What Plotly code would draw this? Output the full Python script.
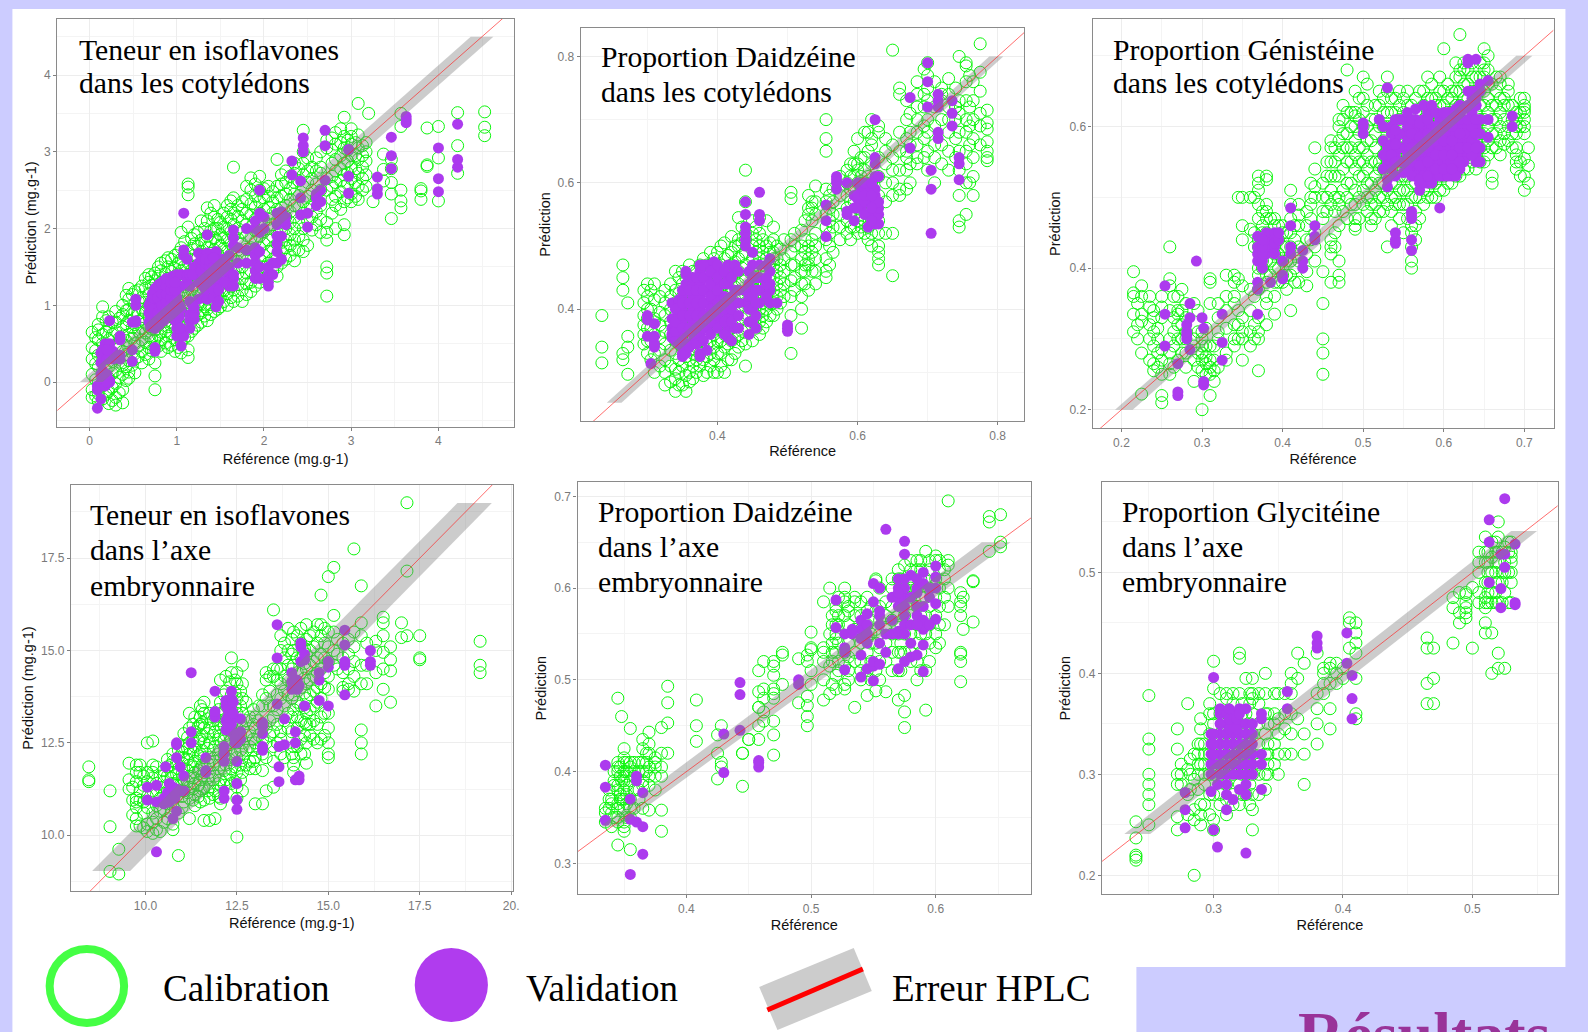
import plotly.graph_objects as go

W, H = 1595, 1032

# ---------- panel 1 : Teneur cotylédons
P1_CAL_X = [0.03,0.1,0.15,0.22,0.3,0.38,0.45,0.52,0.6,0.68,0.75,0.82,0.9,0.98,1.05,1.13,1.2,1.28,1.35,1.43,1.5,1.58,1.65,1.75,1.85,1.95,2.05,2.15,2.25,2.35,2.45,2.55,2.65,2.72,2.82,2.92,3.0,3.08,3.17,3.2,3.25,3.37,3.46,3.57,3.8,3.87,4.0,4.22,4.53]
P1_CAL_Y = [[-.2,-.1,.1,.3,.45,.65],[-.25,-.15,0,.2,.35,.55,.68,.75],[-.22,-.05,.12,.28,.5,.62,.85,.98],[-.28,-.12,.05,.2,.4,.55,.72,.85],[-.3,-.2,-.02,.15,.32,.48,.66,.78,.92],[-.27,-.1,.1,.22,.4,.6,.72,.88,1.0],[.05,.13,.28,.45,.62,.8,.95,1.08,1.22],[.12,.3,.5,.62,.75,.92,1.02,1.18],[.25,.4,.55,.7,.82,.95,1.1,1.25],[.3,.45,.6,.72,.85,1.0,1.15,1.3,1.4],[-.1,.08,.25,.45,.55,.68,.8,.95,1.1,1.2,1.32,1.42],[.4,.55,.65,.78,.9,1.05,1.15,1.3,1.45,1.55],[.45,.6,.72,.85,.98,1.1,1.25,1.35,1.5,1.62],[.4,.55,.7,.82,.95,1.08,1.2,1.35,1.48,1.65],[.38,.52,.68,.8,.92,1.05,1.18,1.3,1.45,1.6,1.75,1.95],[.32,.42,.6,.75,.88,1.0,1.15,1.28,1.4,1.55,1.7,2.02,2.44,2.54,2.58],[.7,.85,.98,1.12,1.25,1.38,1.5,1.65,1.8,1.92],[.78,.9,1.02,1.15,1.3,1.42,1.55,1.7,1.85,2.1],[.8,.95,1.08,1.22,1.35,1.5,1.6,1.75,1.9,2.1,2.27],[.92,1.05,1.18,1.3,1.45,1.58,1.72,1.88,2.0,2.15,2.3],[.98,1.1,1.22,1.35,1.5,1.62,1.78,1.92,2.08],[1.0,1.15,1.28,1.4,1.55,1.7,1.85,2.0,2.15,2.3],[1.05,1.2,1.32,1.45,1.6,1.75,1.9,2.05,2.2,2.4,2.8],[1.05,1.2,1.35,1.5,1.65,1.8,1.95,2.1,2.25,2.35],[1.18,1.3,1.45,1.6,1.75,1.88,2.02,2.18,2.32,2.5,2.66],[1.3,1.45,1.6,1.75,1.9,2.05,2.2,2.35,2.5,2.68],[1.4,1.55,1.7,1.85,2.0,2.12,2.28,2.42,2.55],[1.38,1.5,1.65,1.8,1.95,2.1,2.25,2.4,2.55,2.9],[1.6,1.75,1.85,2.0,2.15,2.3,2.45,2.6,2.75],[1.58,1.72,1.85,2.0,2.15,2.3,2.45,2.6,2.72,2.85],[1.7,1.85,2.0,2.2,2.35,2.55,2.7,2.85,3.0,3.28],[1.98,2.15,2.3,2.5,2.65,2.8],[1.95,2.12,2.3,2.5,2.72,2.8,3.0],[1.12,1.42,1.5,1.85,1.95,2.08,2.5,2.65,3.05,3.15],[2.0,2.3,2.42,2.6,2.75,2.9,3.1,3.25],[1.92,2.05,2.35,2.55,2.7,2.85,3.05,3.2,3.45],[2.35,2.45,2.65,2.8,2.95,3.1,3.2,3.3],[2.38,2.55,2.72,2.9,3.05,3.22,3.63],[2.55,2.7,2.88,3.0,3.12],[3.5],[2.35],[2.62,2.77,2.97],[2.13,2.45,2.6,2.78,2.9],[2.27,2.36,2.5,3.33,3.5],[2.38,2.49,2.52],[2.81,2.83,3.31],[2.36,2.92,3.33],[2.72,3.08,3.51],[3.21,3.32,3.52]]
P1_CAL_X2 = [.07,.19,.26,.34,.42,.49,.56,.64,.71,.79,.87,.94,1.02,1.09,1.17,1.24,1.32,1.39,1.47,1.54,1.62,1.7,1.8,1.9,2.0,2.1,2.2,2.3,2.4,2.5,2.6,2.78,2.88,2.96,3.05,3.13]
P1_CAL_Y2 = [[-.18,.03,.24,.41,.58],[-.16,.16,.33,.47,.66,.8],[-.24,-.07,.11,.27,.62,.78],[-.14,.06,.26,.44,.57,.83],[.02,.2,.36,.54,.76,.93,1.13],[.22,.38,.57,.71,.88,1.14],[.33,.47,.66,.79,.89,1.05,1.2],[.36,.52,.64,.77,.91,1.04,1.22,1.35],[.41,.57,.69,.81,.93,1.07,1.26,1.37],[.47,.61,.74,.86,1.02,1.18,1.38,1.5],[.51,.66,.79,.93,1.07,1.22,1.41,1.58],[.48,.63,.77,.89,1.03,1.17,1.31,1.44,1.6],[.45,.62,.76,.89,1.02,1.14,1.27,1.41,1.55,1.69],[.58,.72,.86,.98,1.12,1.24,1.37,1.51,1.66,1.83],[.66,.79,.93,1.07,1.2,1.33,1.46,1.6,1.74,1.87],[.74,.87,1.0,1.18,1.34,1.47,1.61,1.77,1.95],[.86,.98,1.12,1.26,1.39,1.53,1.66,1.81,2.0],[.88,1.01,1.15,1.28,1.42,1.55,1.68,1.83,1.97,2.2],[.95,1.13,1.27,1.41,1.55,1.67,1.83,2.0,2.12],[1.05,1.19,1.31,1.46,1.59,1.74,1.88,2.02,2.2],[1.1,1.24,1.36,1.5,1.66,1.8,1.96,2.12,2.25,2.36],[1.12,1.27,1.42,1.57,1.72,1.87,2.0,2.16,2.3],[1.14,1.28,1.42,1.58,1.73,1.91,2.05,2.2,2.38,2.55],[1.25,1.38,1.53,1.68,1.83,1.97,2.12,2.28,2.42,2.58],[1.35,1.5,1.65,1.8,1.96,2.1,2.25,2.4,2.52],[1.45,1.6,1.75,1.9,2.05,2.2,2.35,2.48],[1.55,1.7,1.82,1.96,2.12,2.27,2.42,2.58,2.7],[1.65,1.78,1.92,2.08,2.22,2.38,2.52,2.68],[1.72,1.9,2.08,2.27,2.43,2.62,2.78],[1.78,2.1,2.25,2.42,2.6,2.75,2.92],[2.05,2.22,2.4,2.58,2.75,2.92],[2.2,2.38,2.55,2.68,2.85,3.02,3.18],[2.25,2.48,2.62,2.78,2.95,3.12,3.3],[2.4,2.58,2.72,2.88,3.02,3.15],[2.42,2.6,2.78,2.95,3.12],[2.5,2.65,2.8,2.95,3.08]]
P1_VAL_X = [.09,.13,.18,.23,.27,.35,.49,.53,.7,.75,.8,.85,.9,.95,1.0,1.05,1.08,1.12,1.15,1.2,1.25,1.3,1.35,1.45,1.5,1.6,1.65,1.7,1.8,1.9,1.95,2.0,2.05,2.1,2.15,2.2,2.25,2.32,2.42,2.45,2.5,2.6,2.65,2.7,2.97,3.3,3.46,3.63,4.0,4.22]
P1_VAL_Y = [[-.34,-.1,-.05],[-.22,0,.1,.25,.38],[-.05,.08,.38,.5],[0,.02,.4,.5,.8],[.3,.4],[.3,.35,.55,.6],[.27,.42,.78],[.78,.8,1.0,1.08],[.72,.85,.95,1.05],[.4,.45,.7,.82,.92,1.02,1.12,1.22],[.75,.88,.98,1.08,1.18,1.28],[.8,.92,1.02,1.12,1.22,1.32],[.9,1.0,1.1,1.2,1.3],[.95,1.05,1.15,1.25,1.38],[.6,.7,.78,.85,.95,1.1,1.2,1.4],[.47,.6,.7,.95,1.25,1.4],[.6,1.65,1.72,2.2],[1.35,1.4,1.6],[.7,.8,.88,1.05,1.25,1.4],[.82,.9,.97,1.4,1.5],[1.08,1.3,1.42,1.55,1.68],[1.1,1.25,1.4,1.6,1.65],[1.08,1.3,1.45,1.6,1.68,1.92],[.98,1.1,1.25,1.4,1.55,1.7],[1.3,1.45,1.6],[1.25,1.4,1.5,1.65],[1.35,1.78,1.88,1.98],[1.55,1.75],[1.55,1.72,2.0],[1.35,1.45,1.55,1.65,1.75,2.0,2.1],[1.35,1.5,1.7,1.95,2.2,2.5],[2.0,2.15],[1.25,1.3,1.4,1.5],[1.4,1.55],[1.55,1.7,1.8,1.9,2.05,2.2],[1.6,1.9,2.1,2.22],[2.05,2.15],[2.7,2.88],[2.18,2.4,2.62],[3.0,3.08,3.18],[2.02,2.2],[2.3,2.4,2.45],[2.35,2.5],[2.63,3.08,3.28],[2.46,2.68,3.03],[2.45,2.52,2.67],[2.78,2.95,3.19],[3.38,3.42,3.46],[2.48,2.65,3.05],[2.8,2.9,3.36]]
P1_VAL_X2 = [.15,.2,.68,.72,.78,.83,.88,.93,.98,1.03,1.18,1.28,1.33,1.38,1.42,1.48,1.55,1.65]
P1_VAL_Y2 = [[.05,.15,.3,.42],[0,.1,.3,.42],[.78,.9,1.0],[.75,.95,1.1,1.15],[.8,.9,1.1,1.25],[.85,1.0,1.15,1.28],[.85,.95,1.05,1.15,1.25,1.35],[.9,1.0,1.1,1.2,1.3],[.8,.9,1.05,1.2,1.3],[.7,.85,1.0],[1.0,1.4],[1.45,1.55,1.6],[1.2,1.35,1.5,1.55,1.6],[1.35,1.4,1.5,1.58],[1.1,1.2,1.35,1.5,1.62],[1.05,1.2,1.35,1.5],[1.3,1.45,1.6],[1.25,1.4]]
P1_BAND_X = [-.11,.15,4.63,4.37]
P1_BAND_Y = [0,0,4.5,4.5]

# ---------- panel 2 : Daidzéine cotylédons
P2_CAL_X = [.235,.265,.272,.3,.31,.325,.34,.35,.36,.37,.38,.39,.4,.41,.42,.43,.44,.45,.46,.47,.48,.49,.505,.52,.53,.54,.555,.565,.575,.59,.6,.61,.62,.63,.65,.66,.67,.685,.7,.71,.73,.745,.755,.765,.775,.785]
P2_CAL_Y = [[.315,.34,.39],[.32,.33,.43,.45,.47],[.297,.34,.357,.41],[.33,.35,.37,.385,.4,.42,.44],[.3,.33,.36,.38,.385,.415,.44],[.28,.3,.32,.345,.365,.39,.41,.43],[.27,.29,.305,.33,.35,.37,.39,.41,.43,.46],[.28,.31,.34,.36,.38,.4,.42,.44,.46],[.285,.3,.32,.35,.37,.39,.41,.43,.45,.47],[.3,.32,.34,.36,.38,.4,.42,.44,.46],[.295,.32,.34,.36,.38,.4,.42,.44,.46,.48],[.31,.33,.35,.37,.39,.41,.43,.45,.47,.49],[.3,.33,.35,.37,.39,.41,.43,.45,.47,.49],[.3,.34,.36,.38,.4,.42,.44,.46,.48,.505],[.32,.35,.37,.39,.41,.43,.45,.47,.49,.515],[.34,.36,.38,.4,.42,.44,.46,.48,.5,.51,.545],[.31,.345,.37,.39,.41,.43,.45,.47,.49,.51,.52,.57,.62],[.35,.38,.4,.42,.44,.46,.48,.5,.52,.54],[.36,.38,.4,.42,.44,.46,.48,.5,.52,.545],[.38,.4,.42,.44,.46,.48,.5,.54],[.39,.41,.43,.45,.47,.48,.49,.51,.53],[.41,.43,.45,.47,.495],[.33,.39,.42,.445,.47,.49,.51,.575,.585],[.37,.4,.42,.44,.46,.48,.5,.525],[.43,.47,.48,.5,.55,.56,.58],[.44,.46,.48,.5,.52,.55,.57,.595],[.45,.46,.48,.51,.53,.55,.57,.59,.65,.67,.7],[.49,.53,.55,.57,.59],[.51,.53,.55,.58,.61],[.51,.53,.55,.57,.59,.61,.63],[.52,.54,.56,.58,.6,.62,.63,.67],[.52,.54,.56,.58,.6,.62,.64,.68],[.5,.52,.54,.56,.58,.6,.63,.66,.67,.7],[.47,.48,.49,.5,.52,.54,.58,.61,.64,.68,.69],[.453,.52,.58,.6,.62,.64,.66,.81],[.58,.59,.62,.65,.68,.74,.75],[.59,.62,.64,.65,.67,.7,.73],[.63,.64,.66,.68,.7,.72,.74,.76],[.62,.65,.68,.7,.73,.75,.77,.79],[.6,.64,.66,.69,.72,.76],[.62,.65,.68,.7,.72,.74,.765],[.53,.54,.58,.62,.65,.68,.71,.73,.8],[.55,.6,.63,.65,.68,.7,.73,.76,.785,.79],[.58,.61,.64,.67,.7,.73,.76],[.66,.69,.71,.745,.775,.82],[.635,.64,.65,.665,.685,.695,.715]]
P2_CAL_X2 = [.295,.305,.318,.333,.345,.355,.365,.375,.385,.395,.405,.415,.425,.435,.455,.465,.475,.485,.495,.51,.525,.535,.56,.585,.595,.605,.615,.64,.675,.695,.72,.74,.76]
P2_CAL_Y2 = [[.345,.36,.375,.39,.41,.43],[.32,.35,.37,.4,.43],[.31,.335,.355,.375,.395,.42],[.285,.31,.335,.36,.38,.4,.42,.44],[.28,.3,.32,.345,.365,.385,.405,.425,.45],[.27,.295,.325,.35,.37,.39,.41,.43,.45],[.29,.31,.33,.355,.375,.395,.415,.435,.46],[.31,.33,.35,.37,.39,.41,.43,.45,.47],[.3,.325,.345,.365,.385,.405,.425,.445,.47],[.3,.32,.34,.36,.38,.4,.42,.44,.46,.48],[.31,.33,.35,.37,.39,.41,.43,.45,.47,.5],[.32,.345,.365,.385,.405,.425,.445,.465,.485],[.33,.355,.375,.395,.415,.435,.455,.475,.5],[.35,.365,.385,.405,.425,.445,.465,.485,.505,.53],[.37,.39,.41,.43,.45,.47,.49,.51,.53],[.37,.39,.41,.43,.45,.47,.49,.51],[.39,.41,.43,.45,.47,.49,.505],[.4,.42,.44,.46,.48,.5],[.42,.44,.46,.48,.51],[.43,.45,.47,.5,.52],[.44,.46,.47,.49,.51,.54],[.46,.49,.51,.54,.56,.57],[.47,.5,.52,.54,.56,.58],[.52,.54,.56,.58,.6,.62],[.53,.55,.57,.59,.61,.63,.65],[.53,.55,.57,.59,.61,.64],[.51,.53,.55,.57,.59,.61,.65,.68],[.52,.57,.6,.63,.65,.67],[.6,.63,.66,.68,.71],[.64,.67,.69,.72,.74,.78],[.63,.66,.7,.73,.74,.75],[.64,.67,.7,.72,.72,.75],[.6,.66,.69,.72,.77]]
P2_VAL_X = [.3,.31,.305,.335,.345,.35,.355,.365,.375,.385,.395,.405,.415,.425,.44,.445,.45,.46,.475,.485,.5,.555,.57,.585,.595,.605,.615,.625,.63,.675,.7,.705,.715,.735,.745]
P2_VAL_Y = [[.357,.383,.39],[.34,.345,.357,.377],[.314],[.355,.36,.37,.385,.41],[.345,.355,.37,.38,.39,.41,.415],[.325,.33,.34,.36,.38,.4,.42,.43],[.33,.345,.37,.39,.41,.44,.455,.46],[.35,.36,.38,.4,.42,.44,.45],[.325,.33,.36,.38,.4,.42,.44,.46,.47],[.335,.37,.39,.41,.43,.45,.47],[.38,.4,.42,.44,.46,.475],[.38,.38,.4,.42,.44,.46],[.355,.37,.39,.41,.44,.45,.47],[.37,.39,.41,.43,.46,.47],[.41,.43,.5,.51,.52,.53,.55,.57],[.36,.38,.4,.42,.44,.46],[.38,.4,.42,.45,.47,.49],[.41,.43,.45,.47,.54,.55,.585],[.41,.43,.44,.46,.48],[.41],[.365,.37,.375],[.515,.54,.565],[.59,.6,.605,.61],[.55,.555,.6],[.54,.56,.58],[.56,.585,.59],[.53,.55,.57,.59],[.535,.55,.565,.58,.59,.61,.63,.64,.7],[.535,.55,.56,.57,.61],[.655,.735],[.72,.76,.79],[.52,.59,.62],[.67,.68,.72,.73,.74],[.69,.71,.73],[.605,.63,.64]]
P2_VAL_X2 = [.34,.35,.36,.37,.38,.39,.4,.41,.42,.43,.455,.47,.6,.61,.62]
P2_VAL_Y2 = [[.35,.365,.38,.4],[.35,.37,.39,.41],[.34,.37,.39,.41,.43],[.345,.37,.39,.41,.43,.45],[.35,.37,.39,.41,.43,.45,.47],[.36,.38,.4,.42,.44,.46],[.37,.39,.41,.43,.45,.47],[.36,.38,.4,.42,.44,.46],[.35,.38,.4,.42,.45],[.37,.39,.41,.43,.46],[.37,.39,.41,.43,.45],[.42,.44,.45,.47],[.56,.575,.58,.6],[.55,.57,.58,.6],[.54,.56,.58,.6]]
P2_BAND_X = [.242,.263,.808,.788]
P2_BAND_Y = [.252,.252,.8,.8]

# ---------- panel 3 : Génistéine cotylédons
P3_CAL_X = [.215,.225,.24,.25,.26,.27,.28,.29,.3,.31,.32,.33,.34,.35,.36,.37,.38,.39,.4,.41,.42,.43,.44,.45,.46,.47,.48,.49,.5,.51,.52,.53,.54,.55,.56,.57,.58,.59,.6,.61,.62,.63,.64,.65,.66,.67,.68,.69,.7,.705]
P3_CAL_Y = [[.31,.335,.36,.365,.395],[.222,.28,.325,.335,.36,.375],[.255,.265,.29,.31,.33,.34],[.21,.22,.25,.27,.285,.33,.345,.36],[.25,.265,.28,.3,.34,.375,.385,.43],[.27,.3,.32,.335,.34,.36],[.26,.28,.3,.31,.33,.35],[.24,.27,.29,.3,.35],[.2,.255,.27,.28,.29,.3,.31],[.22,.25,.26,.27,.29,.35,.38,.385],[.26,.3,.31,.33,.35],[.27,.28,.315,.34,.36,.39],[.29,.3,.32,.35,.36,.38,.39],[.27,.3,.31,.33,.375,.44,.46,.5],[.29,.31,.34,.37,.455,.5],[.255,.3,.31,.33,.37,.39,.4,.43,.44,.47,.49,.51,.52,.53],[.32,.35,.36,.38,.39,.41,.45,.47,.48,.49,.525,.53],[.335,.36,.38,.4,.42,.43,.46,.47],[.38,.39,.41,.43,.45,.46],[.34,.39,.41,.43,.45,.47,.49,.51],[.38,.41,.43,.46,.475,.49],[.375,.395,.42,.44,.46,.48],[.41,.43,.45,.5,.515,.54,.57],[.25,.28,.3,.35,.395,.47,.48,.5,.52],[.38,.42,.43,.44,.49,.51,.53,.55,.57,.58],[.38,.39,.41,.46,.49,.5,.53,.56,.58,.6,.61],[.47,.5,.52,.55,.57,.59,.62,.68],[.455,.46,.47,.49,.51,.54,.56,.58,.6,.615,.62,.65],[.49,.51,.53,.55,.57,.6,.62,.64,.67],[.46,.47,.49,.5,.52,.55,.58,.61],[.48,.5,.52,.54,.55,.6,.63,.65],[.43,.49,.51,.53,.55,.57,.6,.62,.65,.67],[.49,.5,.52,.56,.62,.64],[.45,.49,.51,.53,.55,.57,.58,.6,.62,.64],[.4,.41,.43,.45,.46,.5,.52,.54,.56,.6,.63],[.47,.5,.53,.55,.57,.59,.62,.65],[.5,.51,.53,.55,.57,.59,.61,.64,.67],[.5,.52,.54,.56,.58,.6,.62,.63,.64],[.51,.53,.55,.57,.59,.61,.63,.65,.71],[.52,.54,.56,.58,.6,.62,.64,.65],[.53,.55,.57,.59,.61,.63,.65,.67,.68,.73],[.54,.56,.58,.6,.62,.64,.66,.68],[.54,.56,.58,.6,.62,.65,.67],[.55,.57,.59,.61,.63,.65,.67,.68,.69,.71],[.52,.53,.57,.59,.61,.63,.66],[.56,.58,.6,.62,.64,.66,.67],[.58,.6,.63,.65,.66],[.54,.55,.56,.57,.59,.6,.61,.62],[.51,.53,.555,.59,.6,.61,.62,.625,.63,.64],[.52,.545,.57]]
P3_CAL_X2 = [.22,.235,.245,.265,.275,.295,.305,.315,.345,.365,.375,.385,.395,.405,.415,.435,.455,.465,.475,.485,.495,.505,.515,.525,.535,.545,.555,.565,.575,.585,.595,.605,.615,.625,.635,.645,.655,.665,.675,.685,.695]
P3_CAL_Y2 = [[.3,.32,.35],[.27,.3,.32,.345,.36],[.26,.28,.3,.315],[.26,.29,.31,.33,.36],[.28,.3,.32,.34,.37],[.26,.28,.31,.34],[.25,.265,.275,.29,.315],[.24,.255,.27,.29],[.3,.32,.34,.385,.5],[.3,.32,.36,.43,.45,.5],[.4,.41,.42,.45,.46,.48],[.39,.41,.43,.44,.47],[.38,.4,.42,.44,.46],[.37,.39,.41,.43,.45],[.38,.4,.42,.44,.46],[.44,.47,.49,.5,.52],[.48,.5,.53,.55],[.43,.45,.48,.5,.53,.55,.57],[.48,.51,.54,.57,.59,.61,.63],[.49,.52,.55,.57,.6,.62],[.47,.5,.53,.55,.57,.59,.61,.64],[.48,.5,.52,.54,.56,.58,.6,.63,.66],[.47,.49,.51,.53,.55,.57,.59,.61,.63],[.48,.5,.52,.54,.56,.58,.6,.62,.64],[.46,.48,.5,.52,.54,.56,.58,.6,.62,.64],[.47,.49,.51,.53,.55,.57,.59,.61,.63,.65],[.47,.49,.51,.53,.55,.57,.59,.61,.63,.65],[.44,.46,.48,.5,.52,.54,.56,.58,.6,.62,.64],[.49,.51,.53,.55,.57,.59,.61,.63,.65],[.5,.52,.54,.56,.58,.6,.62,.64,.66],[.51,.53,.55,.57,.59,.61,.63,.65,.67],[.52,.54,.56,.58,.6,.62,.64,.66],[.53,.55,.57,.59,.61,.63,.65,.67,.69],[.54,.56,.58,.6,.62,.64,.66,.68,.69],[.55,.57,.59,.61,.63,.65,.67,.69],[.55,.57,.59,.61,.63,.65,.67,.69],[.56,.58,.6,.62,.64,.66,.68,.7],[.57,.59,.61,.63,.65,.67],[.575,.59,.61,.63,.64],[.57,.59,.61,.63],[.53,.55,.6,.62,.64]]
P3_VAL_X = [.254,.27,.281,.285,.293,.3,.302,.325,.369,.38,.385,.39,.4,.41,.425,.44,.5,.52,.53,.54,.55,.56,.57,.58,.59,.595,.6,.61,.62,.63,.64,.655,.685]
P3_VAL_Y = [[.29,.335,.375],[.22,.225,.265],[.3,.305,.31,.32],[.285,.33,.35],[.41],[.33],[.235,.24,.315],[.27,.295,.335],[.335,.37,.38,.41,.42,.43,.445],[.42,.43,.44,.45],[.38],[.42,.43,.44,.45],[.385,.39,.41],[.42,.43,.46,.485],[.4,.41,.425],[.44,.445,.46],[.59,.6,.605],[.61],[.515,.525,.55,.56,.57,.655],[.435,.44,.45,.56,.57,.58,.59],[.535,.55,.57,.57,.59,.61],[.425,.44,.47,.475,.48,.54,.56,.58,.6],[.51,.52,.54,.56,.58,.6],[.52,.54,.56,.58,.6,.62],[.53,.55,.57,.59],[.485],[.53,.55,.57,.59,.61],[.53,.55,.57,.59,.61,.62],[.54,.56,.58,.6,.615],[.56,.58,.59,.6,.65,.69,.695],[.55,.56,.575,.6,.63,.65,.695],[.585,.61,.665],[.6,.615]]
P3_VAL_X2 = [.375,.39,.395,.525,.535,.545,.555,.565,.575,.585,.595,.605,.615,.625,.635,.645,.54,.56,.57,.58,.59,.6,.61,.62,.63,.64]
P3_VAL_Y2 = [[.4,.41,.42,.43,.44],[.435],[.44,.45],[.54,.56,.58,.6],[.54,.56,.575,.59,.6],[.55,.57,.59,.61],[.54,.56,.58,.6,.62],[.53,.55,.57,.59,.61,.625],[.52,.53,.55,.57,.59,.61,.63],[.52,.54,.56,.58,.6,.62,.63],[.53,.55,.57,.59,.61],[.53,.55,.57,.59,.61,.62],[.53,.55,.57,.59,.61,.625],[.55,.57,.59,.61,.625],[.56,.58,.6,.62,.64,.65],[.55,.57,.59,.61,.65,.66],[.53,.55,.575,.595,.61],[.53,.55,.57,.59,.61],[.525,.545,.565,.585,.605],[.53,.55,.57,.59,.61],[.54,.56,.58,.6,.62],[.54,.56,.58,.6,.62],[.54,.56,.58,.6],[.55,.57,.59,.61,.63],[.57,.61,.63],[.57,.59,.61,.63,.64]]
P3_BAND_X = [.192,.214,.71,.69]
P3_BAND_Y = [.2,.2,.7,.7]

# ---------- panel 4 : Teneur axe embryonnaire
P4_CAL_X = [8.45,9.03,9.27,9.55,9.75,9.85,10.05,10.2,10.4,10.6,10.75,10.9,11.05,11.2,11.35,11.5,11.6,11.75,11.9,12.05,12.2,12.35,12.5,12.65,12.85,13.0,13.2,13.3,13.5,13.7,13.9,14.05,14.25,14.4,14.6,14.8,15.0,15.15,15.4,15.7,15.9,16.05,16.3,16.5,16.7,17.0,17.15,17.5,19.15]
P4_CAL_Y = [[11.45,11.5,11.85],[9.02,10.23,11.2],[8.95,9.62],[11.25,11.5,11.95],[10.25,10.45,10.75,10.9,11.0,11.45,11.7,11.9],[10.25,10.95,11.2,11.7,11.9],[10.1,10.3,10.75,11.05,11.45,11.7,12.5],[10.05,10.35,10.6,11.2,11.55,11.7,11.9,12.55],[10.1,10.65,11.0,11.3,11.6],[10.45,10.85,11.2,11.6,11.85,12.05],[10.15,10.3,10.8,11.4,11.7,12.0,12.2],[9.45,10.6,11.2,11.5,11.8,12.1,12.3],[10.9,11.2,11.5,11.8,12.1,12.4,12.75],[10.45,11.0,11.3,11.6,11.9,12.2,12.5,12.9,13.3],[10.8,11.1,11.4,11.7,12.0,12.4,12.8,13.2],[10.9,11.2,11.5,11.8,12.2,12.6,13.0,13.2,13.5],[10.4,10.95,11.3,11.7,12.1,12.5,12.9,13.3,13.6],[10.4,11.0,11.3,11.7,12.1,12.5,12.9,13.3],[10.45,11.2,11.6,12.0,12.4,12.8,13.2],[10.85,11.0,11.5,11.9,12.3,12.7,13.1,13.6,14.2],[11.5,11.9,12.3,12.7,13.1,13.5,13.9,14.3],[11.4,11.8,12.2,12.6,13.0,13.4,13.8,14.4,14.8],[9.95,11.0,11.3,11.7,12.1,12.5,12.9,13.3,13.7,14.1,14.4],[11.2,11.7,12.1,12.5,12.9,13.3,13.7,14.1,14.6],[11.8,12.0,12.4,12.8,13.2],[10.85,11.8,12.1,12.5,12.9,13.2],[10.85,11.75,12.2,12.6,13.0,13.5,13.8],[11.2,12.1,12.5,12.9,13.7,14.2,14.4],[11.3,12.0,12.4,12.8,13.2,13.5,14.3,14.5,16.1],[12.2,12.6,12.8,13.7,14.1,14.5,15.0,15.4],[12.9,13.3,13.8,14.2,14.6,15.0,15.6],[11.7,11.9,12.1,12.4,13.4,13.8,14.2,14.6,15.0,15.5],[12.2,12.6,13.1,13.5,14.0,14.4,14.8,15.2,15.6],[11.95,12.5,13.0,13.3,13.7,14.1,14.5,14.9,15.3,15.7],[12.6,13.1,13.5,13.9,14.3,14.7,15.1,15.5],[12.6,13.2,13.7,14.1,14.5,14.9,15.4,15.7,16.5],[12.1,12.2,12.5,12.9,13.3,13.95,14.3,14.7,15.1,15.5,17.0],[14.6,15.0,15.5,15.95,17.25],[13.9,14.0,14.4,14.8,15.2],[13.9,14.3,14.7,15.1,15.5,17.75],[12.2,12.5,12.85,14.1,14.6,15.4,15.75,16.75],[14.1,14.6,15.2],[13.5,14.4,15.0,15.25],[13.95,14.5,14.95,15.4,15.75,15.9],[13.6,14.45,14.75,15.1],[15.35,15.75],[15.4,17.15,19.0],[14.75,14.8,15.4],[14.4,14.6,15.25]]
P4_CAL_X2 = [9.65,9.95,10.3,10.5,10.7,10.85,11.0,11.15,11.3,11.45,11.55,11.7,11.85,12.0,12.15,12.3,12.45,12.6,12.75,12.95,13.1,13.4,13.6,13.8,14.0,14.15,14.35,14.5,14.7,14.9,15.25,15.55]
P4_CAL_Y2 = [[10.55,10.95,11.3],[10.2,10.6,10.9,11.35,11.6],[10.15,10.45,10.8,11.1,11.4,11.85],[10.35,10.7,11.1,11.45,11.75],[10.6,10.95,11.25,11.55,11.9],[11.05,11.35,11.65,11.95],[10.75,11.05,11.35,11.65,11.95,12.25],[11.15,11.45,11.75,12.05,12.35,12.65],[10.95,11.25,11.55,11.85,12.25,12.6,13.0],[11.05,11.35,11.75,12.15,12.55,12.95],[11.25,11.6,11.9,12.3,12.7,13.05,13.4],[11.2,11.55,11.95,12.35,12.75,13.15],[11.1,11.5,11.9,12.3,12.7,13.1],[11.05,11.4,11.8,12.2,12.6,13.0,13.4],[11.35,11.75,12.15,12.55,12.95,13.35,13.8],[11.65,12.05,12.45,12.85,13.25,13.65,14.15],[11.45,11.85,12.25,12.65,13.05,13.45,13.85,14.2],[11.5,11.9,12.3,12.7,13.1,13.5,13.9],[11.9,12.3,12.7,13.1,13.6],[12.0,12.3,12.6,13.0,13.4],[12.35,12.7,13.1,13.5],[12.7,13.1,13.5,13.9,14.3],[12.5,13.0,13.4,13.8,14.2,14.5],[12.1,13.1,13.5,13.9,14.3,14.8,15.2],[12.2,12.8,13.2,13.7,14.1,14.5,14.9,15.3],[12.4,12.9,13.2,13.6,14.0,14.4,14.8,15.4],[12.2,12.7,13.05,13.45,13.85,14.25,14.65,15.05],[12.7,13.0,13.4,13.8,14.2,14.6,15.0,15.4],[12.5,13.0,13.6,14.0,14.4,14.8,15.2,15.7],[12.7,13.3,14.0,14.4,14.8,15.2,15.6],[14.5,14.9,15.3],[13.95,14.1,14.5,14.9,15.3]]
P4_VAL_X = [10.05,10.3,10.5,10.55,10.65,10.75,10.85,10.95,11.05,11.25,11.65,11.9,12.15,12.2,12.35,12.5,12.6,13.2,13.6,13.65,13.8,14.0,14.1,14.2,14.25,14.35,14.75,15.0,15.45,16.15]
P4_VAL_Y = [[10.95,11.3],[9.55,10.9,11.35],[10.85,11.0],[11.85],[10.9,11.1,11.4],[10.45,11.0,11.3],[10.65,11.25,12.1,12.45,12.5],[11.2,11.85],[11.2,11.6],[12.5,12.8,14.4],[11.7,11.75,12.1],[13.2,13.35,13.9],[11.0,11.2,12.0,12.2,12.4],[12.85,13.1,13.5,13.65],[12.8,13.0,13.15,13.4,13.7,13.9],[10.7,10.95,11.4,12.0,12.5,12.7],[12.6,12.8,13.15],[12.3,12.4,12.75,12.95,13.05],[13.55,14.8,15.7],[11.45,11.85,12.4],[12.45,13.15],[13.95,14.15,14.4],[11.5,12.5,12.8],[11.5,11.6,14.05],[14.7,15.1,15.2],[13.5,14.75,14.9],[13.65,14.2,14.4],[13.5,14.55,14.7],[13.8,14.6,14.7,15.15,15.55],[14.6,14.7,15.0]]
P4_VAL_X2 = [10.6,10.8,12.25,12.4,12.45,14.15]
P4_VAL_Y2 = [[10.95,11.15],[11.0,11.2],[13.0,13.2,13.4],[13.3,13.6],[12.5,12.6],[13.95,14.2]]
P4_BAND_X = [8.54,9.58,19.47,18.53]
P4_BAND_Y = [9.03,9.03,18.99,18.99]

# ---------- panel 5 : Daidzéine axe embryonnaire
P5_CAL_X = [.335,.34,.345,.348,.35,.355,.365,.37,.375,.38,.385,.408,.425,.428,.445,.45,.458,.462,.47,.477,.49,.497,.5,.51,.515,.52,.527,.535,.545,.552,.56,.57,.575,.585,.592,.6,.61,.62,.622,.63,.643,.652]
P5_CAL_Y = [[.345,.355,.36],[.34,.355,.365,.37],[.32,.345,.35,.36,.365,.38,.385,.4,.405,.41,.48],[.37,.39,.46],[.335,.34,.345,.36,.37,.38,.39,.4,.41,.415,.425],[.315,.35,.36,.37,.39,.405,.41,.447],[.36,.385,.39,.4,.41,.425,.435],[.358,.385,.395,.405,.42,.43,.443],[.38,.395,.405,.41,.415],[.335,.358,.395,.405,.42,.448],[.42,.453,.475,.493],[.433,.45,.478],[.392,.42,.44],[.405,.41,.45],[.384,.42,.42],[.435,.435],[.435,.45,.47,.47,.487,.51],[.455,.465,.48,.49,.52],[.418,.44,.455,.48,.485,.49,.505,.515,.52],[.495,.527,.53],[.475,.523],[.45,.46,.472,.482,.52,.527],[.495,.51,.533,.535,.552],[.478,.535,.585],[.485,.515,.55,.6],[.49,.505,.53,.545,.55,.56,.575,.58],[.49,.495,.515,.53,.57,.585,.59,.6],[.47,.52,.53,.55,.555,.57,.585,.59],[.483,.51,.53,.545,.56,.575,.59],[.488,.51,.54,.555,.575,.608,.61],[.487,.52,.54,.555,.57,.585],[.478,.51,.53,.55,.57,.59,.61,.62],[.448,.465,.483,.53,.55,.57,.6,.625],[.5,.52,.54,.56,.58,.6,.62,.63],[.467,.51,.55,.57,.59,.61,.64],[.535,.55,.57,.59,.61,.63,.635],[.58,.6,.625,.63,.695],[.498,.52,.528,.53,.57,.58,.585,.595],[.555,.59],[.563,.607,.608],[.64,.672,.678],[.645,.65,.68]]
P5_CAL_X2 = [.338,.342,.347,.352,.358,.362,.368,.51,.517,.522,.53,.54,.548,.555,.565,.572,.58,.588,.595,.603,.607]
P5_CAL_Y2 = [[.36,.37,.38],[.35,.385,.39,.4],[.37,.375,.395,.405],[.35,.365,.375,.385,.395,.4,.41],[.36,.38,.395,.4,.41],[.37,.38,.4,.41],[.4,.41,.42],[.5,.52,.53],[.495,.52,.53,.54,.56,.57],[.51,.52,.54,.56,.57,.59],[.5,.51,.525,.54,.56,.575,.58],[.5,.51,.52,.54,.555,.57,.585],[.5,.52,.54,.55,.565,.58],[.5,.52,.535,.55,.565,.58,.6],[.51,.53,.55,.565,.58,.6,.61],[.51,.53,.54,.56,.58,.59,.6,.61],[.52,.53,.55,.57,.59,.6,.61,.62,.63],[.51,.53,.55,.57,.59,.61,.62,.63],[.52,.54,.56,.58,.6,.62,.63],[.54,.56,.58,.6,.62,.63],[.56,.59,.61,.62]]
P5_VAL_X = [.335,.355,.36,.365,.43,.443,.458,.49,.52,.527,.54,.545,.55,.555,.56,.57,.575,.58,.585,.59,.6]
P5_VAL_Y = [[.347,.383,.407],[.288,.348,.37],[.345,.39,.395],[.31,.34,.377],[.399,.441],[.445,.484,.497],[.405,.41,.412],[.495,.5],[.557,.587],[.511,.53,.535,.55],[.503,.527,.545,.555,.565],[.512,.55,.572],[.499,.515,.52,.585,.605],[.517,.54,.56,.57,.575,.6],[.664],[.512,.55,.553,.58,.6,.61],[.52,.56,.59,.6,.637,.651],[.525,.54,.56,.59,.614],[.527,.57,.595,.6],[.509,.538,.555,.565,.58,.605,.617],[.566,.583,.6,.612,.624]]
P5_VAL_X2 = [.533,.545,.56,.565,.57,.575,.585,.595]
P5_VAL_Y2 = [[.55,.555],[.54,.55,.56],[.53,.55],[.55,.565,.59],[.59,.595],[.55,.57,.58,.61],[.56,.58,.61],[.56,.59,.6]]
P5_BAND_X = [.3306,.346,.66,.637]
P5_BAND_Y = [.34,.34,.65,.65]

# ---------- panel 6 : Glycitéine axe embryonnaire
P6_CAL_X = [.24,.25,.272,.28,.285,.29,.3,.31,.32,.325,.33,.34,.35,.36,.365,.37,.38,.39,.4,.405,.41,.465,.47,.485,.49,.495,.5,.51,.515,.52,.525,.53]
P6_CAL_Y = [[.215,.218,.22,.237,.253],[.25,.27,.28,.29,.3,.325,.335,.378],[.245,.258,.29,.3,.325,.345],[.26,.28,.305,.37],[.2,.255,.265,.295,.32],[.25,.26,.27,.31,.33,.345,.355],[.245,.255,.28,.3,.32,.35,.36,.385,.412],[.26,.275,.29,.31,.33,.375,.38],[.27,.29,.31,.33,.35,.38,.415,.42],[.28,.3,.32,.36,.395],[.245,.265,.28,.3,.32,.34,.36,.375,.38,.395],[.285,.3,.32,.34,.36,.38,.4],[.3,.32,.34,.355,.38],[.32,.34,.36,.38,.39,.4],[.355,.395,.42],[.29,.32,.34,.41],[.33,.35,.365,.38,.42],[.345,.365,.39,.405,.41],[.395,.405],[.425,.45,.455],[.355,.36,.395,.42,.43,.44,.45],[.37,.39,.425,.435],[.37,.395,.425],[.43,.465,.475],[.45,.46,.48],[.455,.46,.465,.47,.478,.48],[.425,.485],[.44,.45,.465,.47,.475,.49,.51,.52,.535],[.4,.44,.47,.48,.5,.515,.53],[.405,.42,.47,.49,.51,.52,.535,.55],[.405,.48,.5,.51,.525],[.47,.49,.5,.51,.515,.52,.53]]
P6_CAL_X2 = [.275,.282,.288,.293,.297,.305,.315,.322,.328,.335,.342,.347,.355,.385,.395,.505,.512,.518,.523,.528]
P6_CAL_Y2 = [[.29,.3,.31],[.285,.3,.315],[.285,.3,.31,.32,.33],[.27,.29,.3,.31,.32,.33],[.26,.28,.3,.32,.34,.36,.37],[.27,.28,.3,.32,.34,.36,.38],[.27,.28,.3,.32,.34,.36,.37,.38],[.28,.3,.32,.34,.36,.37],[.27,.29,.31,.33,.35,.37,.38],[.28,.3,.31,.33,.35,.37,.38],[.3,.31,.32,.33,.35,.36],[.31,.33,.35,.36,.38],[.32,.345,.36,.38],[.38,.39,.4,.405],[.39,.4,.41],[.47,.48,.5,.51,.52],[.47,.48,.49,.5,.51,.52],[.47,.48,.49,.5,.51,.52,.53],[.47,.49,.5,.52],[.47,.5,.52,.53]]
P6_VAL_X = [.278,.298,.3,.303,.305,.31,.315,.32,.325,.33,.337,.357,.38,.403,.407,.513,.522,.525,.533]
P6_VAL_Y = [[.247,.265,.282],[.283,.3,.31,.32,.33,.34],[.245,.396],[.228,.29],[.31,.32,.33,.34,.36,.365],[.265,.28,.29,.3,.32,.35,.36],[.275,.31,.33,.34,.35,.36],[.285,.3,.33,.34,.35,.365],[.222,.28,.29,.3,.32,.34,.365],[.3,.34],[.285,.31,.32,.355,.36],[.365,.382],[.425,.43,.437],[.41,.44],[.355,.375,.398],[.49,.53,.552],[.465,.484,.518],[.505,.518,.573],[.468,.47,.528]]
P6_VAL_X2 = [.3,.305,.31,.312,.315,.318,.32,.325,.33]
P6_VAL_Y2 = [[.31,.32,.33,.34],[.3,.35],[.31,.33,.34],[.345,.355,.365],[.3,.32],[.345,.355],[.31,.32,.36],[.31,.33,.35],[.31,.32,.33,.35]]
P6_BAND_X = [.231,.251,.55,.53]
P6_BAND_Y = [.241,.241,.541,.541]

# ---------- text
XT = ["Référence (mg.g-1)", "Référence", "Référence", "Référence (mg.g-1)", "Référence", "Référence"]
YT = ["Prédiction (mg.g-1)", "Prédiction", "Prédiction", "Prédiction (mg.g-1)", "Prédiction", "Prédiction"]
TITLES = [["Teneur en isoflavones", "dans les cotylédons"],
          ["Proportion Daidzéine", "dans les cotylédons"],
          ["Proportion Génistéine", "dans les cotylédons"],
          ["Teneur en isoflavones", "dans l’axe", "embryonnaire"],
          ["Proportion Daidzéine", "dans l’axe", "embryonnaire"],
          ["Proportion Glycitéine", "dans l’axe", "embryonnaire"]]
X_TICKS = [[0,1,2,3,4],[.4,.6,.8],[.2,.3,.4,.5,.6,.7],[10,12.5,15,17.5,20],[.4,.5,.6],[.3,.4,.5]]
X_TXT = [["0","1","2","3","4"],["0.4","0.6","0.8"],["0.2","0.3","0.4","0.5","0.6","0.7"],["10.0","12.5","15.0","17.5","20."],["0.4","0.5","0.6"],["0.3","0.4","0.5"]]
Y_TICKS = [[0,1,2,3,4],[.4,.6,.8],[.2,.4,.6],[10,12.5,15,17.5],[.3,.4,.5,.6,.7],[.2,.3,.4,.5]]
Y_TXT = [["0","1","2","3","4"],["0.4","0.6","0.8"],["0.2","0.4","0.6"],["10.0","12.5","15.0","17.5"],["0.3","0.4","0.5","0.6","0.7"],["0.2","0.3","0.4","0.5"]]
MINOR = [(.5,.5),(.1,.1),(.05,.1),(1.25,1.25),(.05,.05),(.05,.05)]
XR = [(-.371,4.868),(.205,.838),(.1642,.7362),(7.96,20.04),(.3127,.6764),(.2138,.566)]
YR = [(-.584,4.73),(.2226,.8458),(.1737,.752),(8.49,19.48),(.2663,.7156),(.1812,.5895)]

CAL = [(P1_CAL_X+P1_CAL_X2,P1_CAL_Y+P1_CAL_Y2),(P2_CAL_X+P2_CAL_X2,P2_CAL_Y+P2_CAL_Y2),(P3_CAL_X+P3_CAL_X2,P3_CAL_Y+P3_CAL_Y2),
       (P4_CAL_X+P4_CAL_X2,P4_CAL_Y+P4_CAL_Y2),(P5_CAL_X+P5_CAL_X2,P5_CAL_Y+P5_CAL_Y2),(P6_CAL_X+P6_CAL_X2,P6_CAL_Y+P6_CAL_Y2)]
VAL = [(P1_VAL_X+P1_VAL_X2,P1_VAL_Y+P1_VAL_Y2),(P2_VAL_X+P2_VAL_X2,P2_VAL_Y+P2_VAL_Y2),(P3_VAL_X+P3_VAL_X2,P3_VAL_Y+P3_VAL_Y2),
       (P4_VAL_X+P4_VAL_X2,P4_VAL_Y+P4_VAL_Y2),(P5_VAL_X+P5_VAL_X2,P5_VAL_Y+P5_VAL_Y2),(P6_VAL_X+P6_VAL_X2,P6_VAL_Y+P6_VAL_Y2)]
BAND = [(P1_BAND_X,P1_BAND_Y),(P2_BAND_X,P2_BAND_Y),(P3_BAND_X,P3_BAND_Y),(P4_BAND_X,P4_BAND_Y),(P5_BAND_X,P5_BAND_Y),(P6_BAND_X,P6_BAND_Y)]

# ---------- layout, pixels
BOX = [(57.6,517.8,19,426.9),(585,1031.6,27.5,421.3),(1100.4,1564.6,19,428.3),
       (71.4,516.3,485,891),(581.7,1038.3,482,894.3),(1109.9,1568.9,482,894.3)]
TITLE_POS = [(77.3,[50,83]),(603.5,[57,92]),(1118.5,[50,83]),(88.6,[515,550,586]),(600.5,[512,547,582]),(1127.5,[512,546.5,582])]
XSTAND = [6,4,5,6,5,5]
YSTAND = [3,3,5,3,4,4]
XK = 0.9973

def px(x): return x * XK / W
def py(y): return 1 - y / H
def flat(xs, yss):
    return [x for x, ys in zip(xs, yss) for _ in ys], [v for ys in yss for v in ys]

fig = go.Figure()
layout = {}
ann = []
for i in range(6):
    n = "" if i == 0 else str(i + 1)
    xa, ya = "x" + n, "y" + n
    x0, x1, y0, y1 = BOX[i]
    cx, cy = flat(*CAL[i])
    vx, vy = flat(*VAL[i])
    fig.add_trace(go.Scatter(x=cx, y=cy, xaxis=xa, yaxis=ya, mode="markers", showlegend=False, hoverinfo="skip",
                             marker=dict(symbol="circle-open", size=12, color="#0CF50C", line=dict(width=1, color="#0CF50C"))))
    fig.add_trace(go.Scatter(x=vx, y=vy, xaxis=xa, yaxis=ya, mode="markers", showlegend=False, hoverinfo="skip",
                             marker=dict(symbol="circle", size=11, color="#AC3AEE")))
    bx, by = BAND[i]
    fig.add_trace(go.Scatter(x=bx + bx[:1], y=by + by[:1], xaxis=xa, yaxis=ya, mode="lines", fill="toself",
                             fillcolor="rgba(128,128,128,0.4)", line=dict(width=0), showlegend=False, hoverinfo="skip"))
    fig.add_trace(go.Scatter(x=list(XR[i]), y=list(XR[i]), xaxis=xa, yaxis=ya, mode="lines",
                             line=dict(color="rgba(255,30,30,0.65)", width=1), showlegend=False, hoverinfo="skip"))
    common = dict(showline=True, mirror=True, linecolor="#8A8A8A", linewidth=1.3, ticks="outside", ticklen=3,
                  tickcolor="#808080", tickwidth=1, zeroline=False, showgrid=True, gridcolor="#EDEDED", gridwidth=1.2,
                  tickfont=dict(family="Liberation Sans, Arial", size=12, color="#7A7A7A"))
    layout["xaxis" + n] = dict(domain=[px(x0), px(x1)], range=list(XR[i]), anchor=ya, tickmode="array",
                               tickvals=X_TICKS[i], ticktext=X_TXT[i],
                               minor=dict(dtick=MINOR[i][0], showgrid=True, gridcolor="#F4F4F4", gridwidth=1, ticks=""),
                               title=dict(text=XT[i], standoff=XSTAND[i], font=dict(family="Liberation Sans, Arial", size=14.5, color="#111111")), **common)
    layout["yaxis" + n] = dict(domain=[py(y1), py(y0)], range=list(YR[i]), anchor=xa, tickmode="array",
                               tickvals=Y_TICKS[i], ticktext=Y_TXT[i],
                               minor=dict(dtick=MINOR[i][1], showgrid=True, gridcolor="#F4F4F4", gridwidth=1, ticks=""),
                               title=dict(text=YT[i], standoff=YSTAND[i], font=dict(family="Liberation Sans, Arial", size=14.5, color="#111111")), **common)
    tx, tys = TITLE_POS[i]
    for line, ty in zip(TITLES[i], tys):
        ann.append(dict(text=line, xref="paper", yref="paper", x=px(tx), y=py(ty), xanchor="left", yanchor="middle",
                        showarrow=False, font=dict(family="Liberation Serif, Times New Roman", size=29.7, color="#000000")))

for txt, tx in [("Calibration", 162.3), ("Validation", 528), ("Erreur HPLC", 896.8)]:
    ann.append(dict(text=txt, xref="paper", yref="paper", x=px(tx), y=py(988), xanchor="left", yanchor="middle",
                    showarrow=False, font=dict(family="Liberation Serif, Times New Roman", size=37, color="#000000")))
ann.append(dict(text="<b>Résultats</b>", xref="paper", yref="paper", x=px(1305.5), y=py(997), xanchor="left", yanchor="top",
                showarrow=False, font=dict(family="Liberation Serif, Times New Roman", size=64, color="#993399")))

def rect(x0, y0, x1, y1, color):
    return dict(type="rect", xref="paper", yref="paper", x0=px(x0), x1=px(x1), y0=py(y0), y1=py(y1),
                fillcolor=color, line=dict(width=0), layer="below")

shapes = [rect(0, 0, W / XK, H, "#CCCCFF"), rect(12.5, 9, 1576.6, H, "#FFFFFF"), rect(1144.5, 967, W / XK, H, "#CCCCFF")]
shapes += [
    dict(type="circle", xref="paper", yref="paper", x0=px(50), x1=px(125), y0=py(1023), y1=py(949),
         line=dict(color="#44FF44", width=8), fillcolor="rgba(0,0,0,0)"),
    dict(type="circle", xref="paper", yref="paper", x0=px(417.7), x1=px(491.4), y0=py(1022), y1=py(948),
         line=dict(width=0), fillcolor="#B03CEE"),
    dict(type="path", xref="paper", yref="paper",
         path=f"M {px(764.6)} {py(987)} L {px(859.8)} {py(948)} L {px(878)} {py(991)} L {px(783)} {py(1030)} Z",
         line=dict(width=0), fillcolor="#CCCCCC"),
    dict(type="line", xref="paper", yref="paper", x0=px(772.8), y0=py(1010), x1=px(869), y1=py(969),
         line=dict(color="#FF0000", width=5)),
]

fig.update_layout(width=W, height=H, margin=dict(l=0, r=0, t=0, b=0), paper_bgcolor="#FFFFFF", plot_bgcolor="rgba(0,0,0,0)",
                  showlegend=False, annotations=ann, shapes=shapes, **layout)
fig.write_html("out.html", post_script="document.body.style.margin='0';document.body.style.overflow='hidden';",
               config={"displayModeBar": False})
